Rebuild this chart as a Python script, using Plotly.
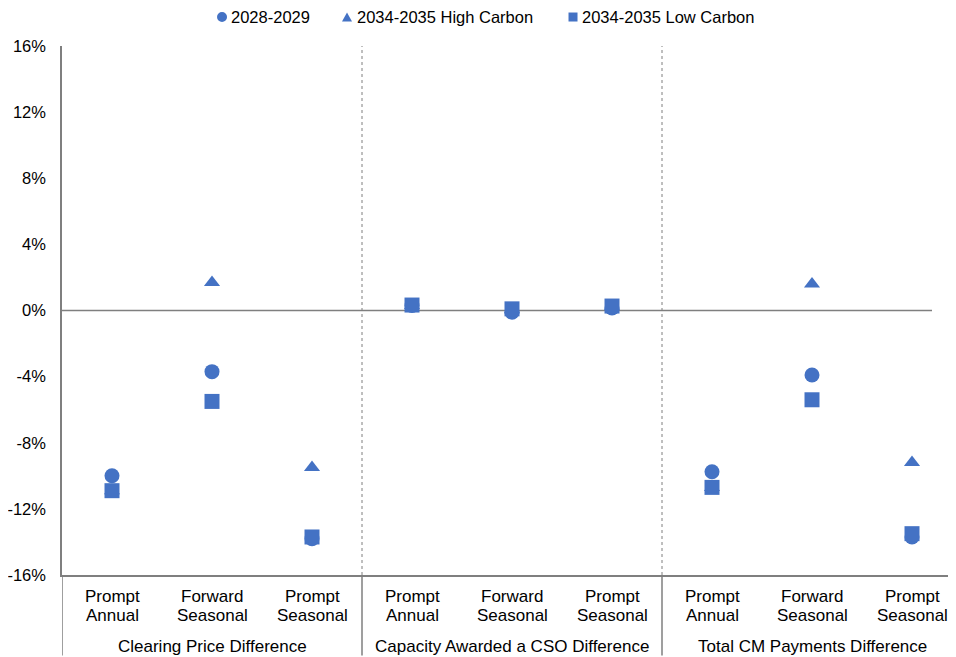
import plotly.graph_objects as go

cat_line1 = ["Prompt", "Forward", "Prompt"] * 3
cat_line2 = ["Annual", "Seasonal", "Seasonal"] * 3
groups = ["Clearing Price Difference", "Capacity Awarded a CSO Difference", "Total CM Payments Difference"]
series_names = ["2028-2029", "2034-2035 High Carbon", "2034-2035 Low Carbon"]
s_2028 = [-10.0, -3.7, -13.8, 0.3, -0.1, 0.15, -9.75, -3.9, -13.7]
s_high = [-10.9, 1.7, -9.5, 0.3, 0.05, 0.25, -10.7, 1.6, -9.2]
s_low = [-10.9, -5.5, -13.7, 0.33, 0.1, 0.27, -10.7, -5.4, -13.5]
y_ticks = [-16, -12, -8, -4, 0, 4, 8, 12, 16]
y_labels = [f"{v}%" for v in y_ticks]

BLUE = "#4472C4"
GRAY = "#7F7F7F"
FONT = "Liberation Sans, Arial, sans-serif"
FS = 17
xs = list(range(len(cat_line1)))

fig = go.Figure()
for name, vals, sym, size in [
    (series_names[0], s_2028, "circle", 15),
    (series_names[1], s_high, "triangle-up", 14),
    (series_names[2], s_low, "square", 15),
]:
    fig.add_trace(go.Scatter(
        x=xs, y=vals, mode="markers", name=name, showlegend=False,
        marker=dict(symbol=sym, size=size, color=BLUE, line=dict(width=0)),
    ))

shapes = []
shapes.append(dict(type="line", xref="x", yref="y", x0=-0.5, x1=8.2, y0=0, y1=0,
                   line=dict(color=GRAY, width=1.5), layer="below"))
for xv in [2.5, 5.5]:
    shapes.append(dict(type="line", xref="x", yref="y", x0=xv, x1=xv, y0=-16, y1=16,
                       line=dict(color=GRAY, width=1, dash="dot"), layer="below"))
for xv in [-0.5, 2.5, 5.5]:
    shapes.append(dict(type="line", xref="x", yref="paper", x0=xv, x1=xv, y0=0, y1=-0.152,
                       line=dict(color=GRAY, width=1.5)))

annotations = []
for i in xs:
    annotations.append(dict(x=i, y=-0.0400, xref="x", yref="paper", text=cat_line1[i],
                            showarrow=False, font=dict(size=FS), xanchor="center", yanchor="middle"))
    annotations.append(dict(x=i, y=-0.0760, xref="x", yref="paper", text=cat_line2[i],
                            showarrow=False, font=dict(size=FS), xanchor="center", yanchor="middle"))
for i, g in enumerate(groups):
    annotations.append(dict(x=i * 3 + 1, y=-0.1360, xref="x", yref="paper", text=g,
                            showarrow=False, font=dict(size=FS), xanchor="center", yanchor="middle"))

# custom legend (symbol + text)
LEG_Y = 1.0548
leg_sym_x = [0.1790, 0.3188, 0.5716]
leg_txt_x = [0.1868, 0.3277, 0.5794]
shapes.append(dict(type="circle", xref="paper", yref="paper", xsizemode="pixel", ysizemode="pixel",
                   xanchor=leg_sym_x[0], yanchor=LEG_Y, x0=-5, x1=5, y0=-5, y1=5,
                   fillcolor=BLUE, line=dict(width=0)))
shapes.append(dict(type="path", xref="paper", yref="paper", xsizemode="pixel", ysizemode="pixel",
                   xanchor=leg_sym_x[1], yanchor=LEG_Y, path="M-5,-4.5 L5,-4.5 L0,4.5 Z",
                   fillcolor=BLUE, line=dict(width=0)))
shapes.append(dict(type="rect", xref="paper", yref="paper", xsizemode="pixel", ysizemode="pixel",
                   xanchor=leg_sym_x[2], yanchor=LEG_Y, x0=-4.5, x1=4.5, y0=-4.5, y1=4.5,
                   fillcolor=BLUE, line=dict(width=0)))
for tx, name in zip(leg_txt_x, series_names):
    annotations.append(dict(x=tx, y=LEG_Y, xref="paper", yref="paper", text=name, showarrow=False,
                            font=dict(size=16.5), xanchor="left", yanchor="middle"))

fig.update_layout(
    width=948, height=649,
    margin=dict(l=54, r=0, t=38, b=82),
    paper_bgcolor="white", plot_bgcolor="white",
    font=dict(family=FONT, color="#000000", size=FS),
    showlegend=False,
    shapes=shapes, annotations=annotations,
    xaxis=dict(range=[-0.5, 8.44], showticklabels=False, showgrid=False,
               zeroline=False, showline=True, linecolor=GRAY, linewidth=1.5, ticks="",
               fixedrange=True),
    yaxis=dict(range=[-16, 16], tickvals=y_ticks, ticktext=y_labels, showgrid=False,
               zeroline=False, showline=True, linecolor=GRAY, linewidth=1.5, ticks="",
               tickfont=dict(size=16.5), ticklabelstandoff=11),
)

fig.write_html("out.html")
